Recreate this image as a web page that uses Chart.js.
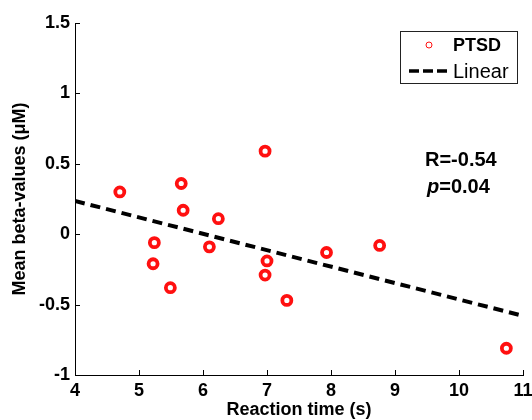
<!DOCTYPE html>
<html>
<head>
<meta charset="utf-8">
<script src="https://cdn.jsdelivr.net/npm/chart.js@4.4.1/dist/chart.umd.min.js"></script>
<style>
  html, body { margin: 0; padding: 0; background: #fff; }
  #wrap { width: 532px; height: 420px; position: relative; }
</style>
</head>
<body>
<div id="wrap"><canvas id="c" width="532" height="420"></canvas></div>
<script>
// ---- data ----
const reactionTime = [4.70, 5.66, 5.69, 6.24, 5.24, 5.22, 5.49, 6.10, 6.97, 7.00, 6.97, 7.31, 7.93, 8.76, 10.74];
const betaValues   = [0.30, 0.36, 0.17, 0.11, -0.06, -0.21, -0.38, -0.09, 0.59, -0.19, -0.29, -0.47, -0.13, -0.08, -0.81];
const fitX = [4, 11];
const fitY = [0.236, -0.58];
const xTicks = [4, 5, 6, 7, 8, 9, 10, 11];
const yTicks = [-1, -0.5, 0, 0.5, 1, 1.5];
const seriesNames = ['PTSD', 'Linear'];
const statsText = ['R=-0.54', 'p=0.04'];

const FONT = '"Liberation Sans", Arial, sans-serif';
const RED = '#ff1010';

const scatterPts = reactionTime.map((x, i) => ({x: x, y: betaValues[i]}));
const fitPts = fitX.map((x, i) => ({x: x, y: fitY[i]}));

const overlay = {
  id: 'overlay',
  afterDraw(chart) {
    const ctx = chart.ctx;
    const xs = chart.scales.x, ys = chart.scales.y;
    const area = chart.chartArea;
    ctx.save();
    // inward tick marks
    ctx.strokeStyle = '#000';
    ctx.lineWidth = 1;
    ctx.beginPath();
    xTicks.forEach(v => {
      const px = Math.round(xs.getPixelForValue(v)) + 0.5;
      ctx.moveTo(px, area.bottom);
      ctx.lineTo(px, area.bottom - 5);
    });
    yTicks.forEach(v => {
      const py = Math.round(ys.getPixelForValue(v)) + 0.5;
      ctx.moveTo(area.left, py);
      ctx.lineTo(area.left + 5, py);
    });
    ctx.stroke();

    // legend box
    ctx.fillStyle = '#fff';
    ctx.fillRect(400, 31, 117, 52);
    ctx.strokeStyle = '#222';
    ctx.lineWidth = 1;
    ctx.strokeRect(400.5, 31.5, 117, 52);
    // marker
    ctx.strokeStyle = RED;
    ctx.lineWidth = 1;
    ctx.beginPath();
    ctx.arc(429, 45, 3, 0, Math.PI * 2);
    ctx.stroke();
    // dashed line
    ctx.strokeStyle = '#000';
    ctx.lineWidth = 3.5;
    ctx.setLineDash([10, 4]);
    ctx.beginPath();
    ctx.moveTo(409, 71);
    ctx.lineTo(451, 71);
    ctx.stroke();
    ctx.setLineDash([]);
    ctx.fillStyle = '#000';
    ctx.textBaseline = 'middle';
    ctx.textAlign = 'left';
    ctx.font = 'bold 18px ' + FONT;
    ctx.fillText(seriesNames[0], 453, 46);
    ctx.font = '20px ' + FONT;
    ctx.fillText(seriesNames[1], 453, 72);

    // stats text
    ctx.font = 'bold 20px ' + FONT;
    ctx.fillText(statsText[0], 425, 160);
    const pPart = statsText[1].slice(0, 1);
    const rest = statsText[1].slice(1);
    ctx.font = 'italic bold 20px ' + FONT;
    ctx.fillText(pPart, 427, 187);
    const w = ctx.measureText(pPart).width;
    ctx.font = 'bold 20px ' + FONT;
    ctx.fillText(rest, 427 + w, 187);
    ctx.restore();
  }
};

new Chart(document.getElementById('c'), {
  type: 'scatter',
  data: {
    datasets: [
      {
        label: seriesNames[0],
        data: scatterPts,
        pointStyle: 'circle',
        pointRadius: 4.5,
        pointBorderWidth: 3.8,
        borderColor: RED,
        backgroundColor: 'rgba(255,255,255,0)',
        pointBackgroundColor: 'rgba(255,255,255,0)',
        order: 1
      },
      {
        label: seriesNames[1],
        type: 'line',
        data: fitPts,
        borderColor: '#000',
        borderWidth: 4,
        borderDash: [10, 6],
        pointRadius: 0,
        fill: false,
        order: 2
      }
    ]
  },
  options: {
    responsive: false,
    animation: false,
    devicePixelRatio: 1,
    layout: { padding: { top: 23, right: 9, left: 0, bottom: 0 } },
    plugins: { legend: { display: false }, tooltip: { enabled: false } },
    scales: {
      x: {
        type: 'linear',
        min: 4, max: 11,
        afterBuildTicks: s => { s.ticks = xTicks.map(v => ({value: v})); },
        afterFit: s => { s.height = 45; s.paddingLeft = 0; s.paddingRight = 0; },
        grid: { display: false, drawTicks: false },
        border: { display: true, color: '#000', width: 1 },
        ticks: { color: '#000', padding: 5, font: { family: FONT, size: 18, weight: 'bold' },
                 callback: v => String(v) },
        title: { display: true, text: 'Reaction time (s)', color: '#000', padding: { top: 0, bottom: 0 },
                 font: { family: FONT, size: 18, weight: 'bold', lineHeight: 1.1 } }
      },
      y: {
        type: 'linear',
        min: -1, max: 1.5,
        afterBuildTicks: s => { s.ticks = yTicks.map(v => ({value: v})); },
        afterFit: s => { s.width = 75; s.paddingTop = 0; s.paddingBottom = 0; },
        grid: { display: false, drawTicks: false },
        border: { display: true, color: '#000', width: 1 },
        ticks: { color: '#000', padding: 5, font: { family: FONT, size: 18, weight: 'bold' },
                 callback: v => String(v) },
        title: { display: true, text: 'Mean beta-values (μM)', color: '#000', padding: { top: 9, bottom: 0 },
                 font: { family: FONT, size: 18, weight: 'bold', lineHeight: 1.2 } }
      }
    }
  },
  plugins: [overlay]
});
</script>
</body>
</html>
